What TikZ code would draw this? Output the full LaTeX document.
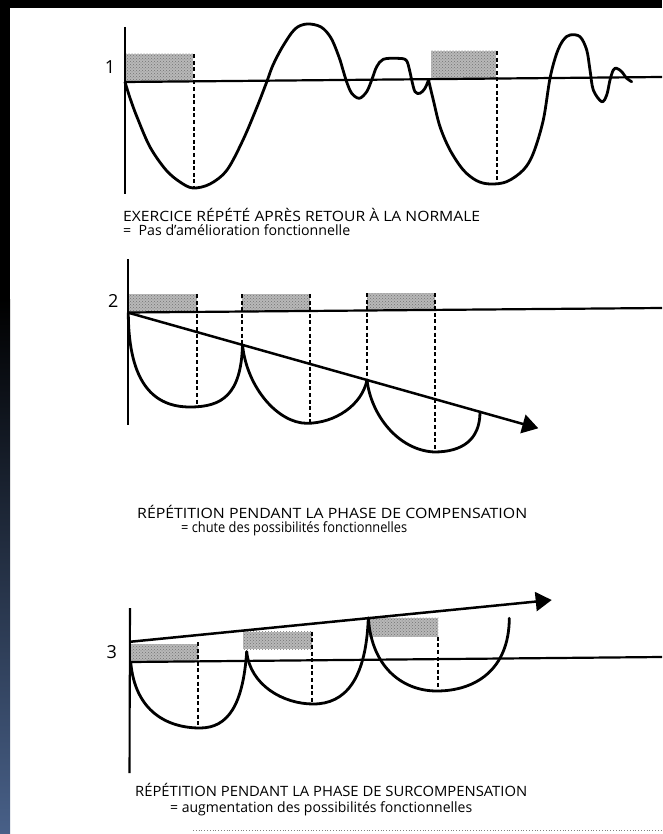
\documentclass[tikz,border=0pt]{standalone}
\usepackage{fontspec}
\usepackage{graphicx}
\setmainfont{Open Sans}
\usetikzlibrary{arrows.meta,patterns}
\definecolor{stripblue}{RGB}{72,96,136}
\definecolor{shadegray}{gray}{0.72}
\tikzset{
  axisline/.style={line width=2.1pt},
  refline/.style={line width=2.2pt},
  curveline/.style={line width=2.8pt, line join=round, line cap=round},
  dashline/.style={line width=2pt, dash pattern=on 4pt off 2.6pt},
  stipple/.style={fill=shadegray, draw=none, postaction={pattern=crosshatch dots, pattern color=black!55}},
  trendarrow/.style={line width=2.5pt, -{Triangle[length=16pt,width=19pt]}},
  numlabel/.style={font=\fontsize{18}{18}\selectfont, inner sep=0pt},
  caption/.style={font=\fontsize{14.2}{15}\selectfont, inner sep=0pt, anchor=base west},
}
\begin{document}
\begin{tikzpicture}[x=1pt,y=-1pt]
\useasboundingbox (0,0) rectangle (662,834);
% paper and scan border
\fill[white] (0,0) rectangle (662,834);
\fill[black] (0,0) rectangle (662,8);
\fill[black] (0,0) rectangle (10,300);
\shade[top color=black, bottom color=stripblue] (0,299) rectangle (10,834);

% ================= Panel 1 =================
\fill[stipple] (125,54) rectangle (193,81.5);
\fill[stipple] (431,51) rectangle (496,79);
\draw[dashline] (193.5,54) -- (193.5,187);
\draw[dashline] (496.5,51) -- (496.5,184);
\coordinate (b1s) at (125,82);
\coordinate (b1e) at (662,77);
\draw[refline] (b1s) -- (b1e);
\coordinate (ax1t) at (125,27);
\coordinate (ax1b) at (125,194);
\draw[axisline] (ax1t) -- (ax1b);
\draw[curveline] plot[smooth, tension=0.55] coordinates {
 (125,82) (130,98) (137,117) (150,147) (166,170) (180,182) (193,188)
 (210,184) (227,170) (243,140) (257,107) (266.7,82) (273,65) (283,46)
 (295,29) (307,24) (321,27) (331,38) (339,57) (343,70) (346.7,82)
 (351.7,93.3) (359.3,98.3) (366.7,91.7) (371.7,80) (376.7,66.7)
 (383.3,59.3) (396.7,58.3) (406,60) (409.5,70) (411.7,80) (415,91.7)
 (420,93.3) (425,88.3) (428.5,80)};
\draw[curveline] plot[smooth, tension=0.55] coordinates {
 (428.5,80) (433.3,100) (440,126.7) (450,150) (463.3,170) (476.7,180.7)
 (490,184) (506.7,181.7) (523.3,170) (533.3,153.3) (543.3,120) (550,78.3)
 (556.7,53.3) (563.3,40) (570,35) (580,36.7) (586.7,50) (590,70)
 (593.3,90) (601.7,101.7) (606.7,95) (610,80) (613.3,70) (616.7,68.3)
 (621.7,71.7) (626.7,78.3) (631.7,81.7)};
\node[numlabel] (n1) at (110,66.7) {1};
\node[caption] (t1) at (123,221) {\resizebox{357pt}{\height}{EXERCICE RÉPÉTÉ APRÈS RETOUR À LA NORMALE}};
\node[caption] (t1b) at (123,235) {\resizebox{227pt}{\height}{=\ \ Pas d'amélioration fonctionnelle}};

% ================= Panel 2 =================
\fill[stipple] (128,294) rectangle (196.7,311.8);
\fill[stipple] (241.7,294) rectangle (310,311);
\fill[stipple] (366.7,293) rectangle (435,310);
\draw[dashline] (196.7,294) -- (196.7,406.5);
\draw[dashline] (241.7,294) -- (241.7,345);
\draw[dashline] (310,294) -- (310,423);
\draw[dashline] (366.7,293) -- (366.7,380);
\draw[dashline] (435,293) -- (435,451);
\coordinate (b2s) at (128,312.5);
\coordinate (b2e) at (662,308);
\draw[refline] (b2s) -- (b2e);
\coordinate (ax2t) at (128.3,259);
\coordinate (ax2b) at (128.3,425);
\draw[axisline] (ax2t) -- (ax2b);
\coordinate (a2s) at (128.3,312.7);
\coordinate (a2e) at (538.3,428.3);
\draw[curveline] (128.3,312.7) .. controls (128.5,385) and (155,407) .. (190,407)
   .. controls (222,407) and (241,395) .. (242.5,345);
\draw[curveline] (242.5,345) .. controls (247,388) and (278,423) .. (306.7,423.3)
   .. controls (335,423.3) and (362,405) .. (367,380);
\draw[curveline] (367,380) .. controls (371,415) and (398,450) .. (434,452)
   .. controls (462,452) and (480,440) .. (480,411.9);
\draw[trendarrow] (a2s) -- (a2e);
\node[numlabel] (n2) at (113.3,301) {2};
\node[caption] (t2) at (137,518) {\resizebox{390pt}{\height}{RÉPÉTITION PENDANT LA PHASE DE COMPENSATION}};
\node[caption] (t2b) at (181,532) {\resizebox{226pt}{\height}{= chute des possibilités fonctionnelles}};

% ================= Panel 3 =================
\fill[stipple] (130.7,644) rectangle (198.3,661.7);
\fill[stipple] (243.3,631.7) rectangle (312.3,649.3);
\fill[stipple] (369.3,617.8) rectangle (438.3,636.7);
\draw[dashline] (198,642) -- (198,728.3);
\draw[dashline] (312.3,631.7) -- (312.3,703.5);
\draw[dashline] (438,636.7) -- (438,690.5);
\coordinate (b3s) at (130,662);
\coordinate (b3e) at (662,657);
\draw[refline] (b3s) -- (b3e);
\coordinate (ax3t) at (130,608);
\coordinate (ax3b) at (129.5,773);
\draw[axisline] (ax3t) -- (ax3b);
\coordinate (a3s) at (130.7,641.7);
\coordinate (a3e) at (551.7,600);
\draw[curveline] (130.7,662) .. controls (135,712) and (168,728) .. (200,728)
   .. controls (228,728) and (243,705) .. (246.7,651.7);
\draw[curveline] (246.7,651.7) .. controls (250,685) and (283,704) .. (313.3,704)
   .. controls (345,704) and (366,680) .. (368.3,618);
\draw[curveline] (368.3,618) .. controls (372,670) and (405,691) .. (436.7,691)
   .. controls (475,691) and (509,670) .. (509.3,618.3);
\draw[trendarrow] (a3s) -- (a3e);
\node[numlabel] (n3) at (111.7,651.7) {3};
\node[caption] (t3) at (135,796) {\resizebox{392pt}{\height}{RÉPÉTITION PENDANT LA PHASE DE SURCOMPENSATION}};
\node[caption] (t3b) at (170,812.5) {\resizebox{302pt}{\height}{= augmentation des possibilités fonctionnelles}};
\draw[dotted, line width=0.8pt, gray] (193,830) -- (662,830);
\end{tikzpicture}
\end{document}
